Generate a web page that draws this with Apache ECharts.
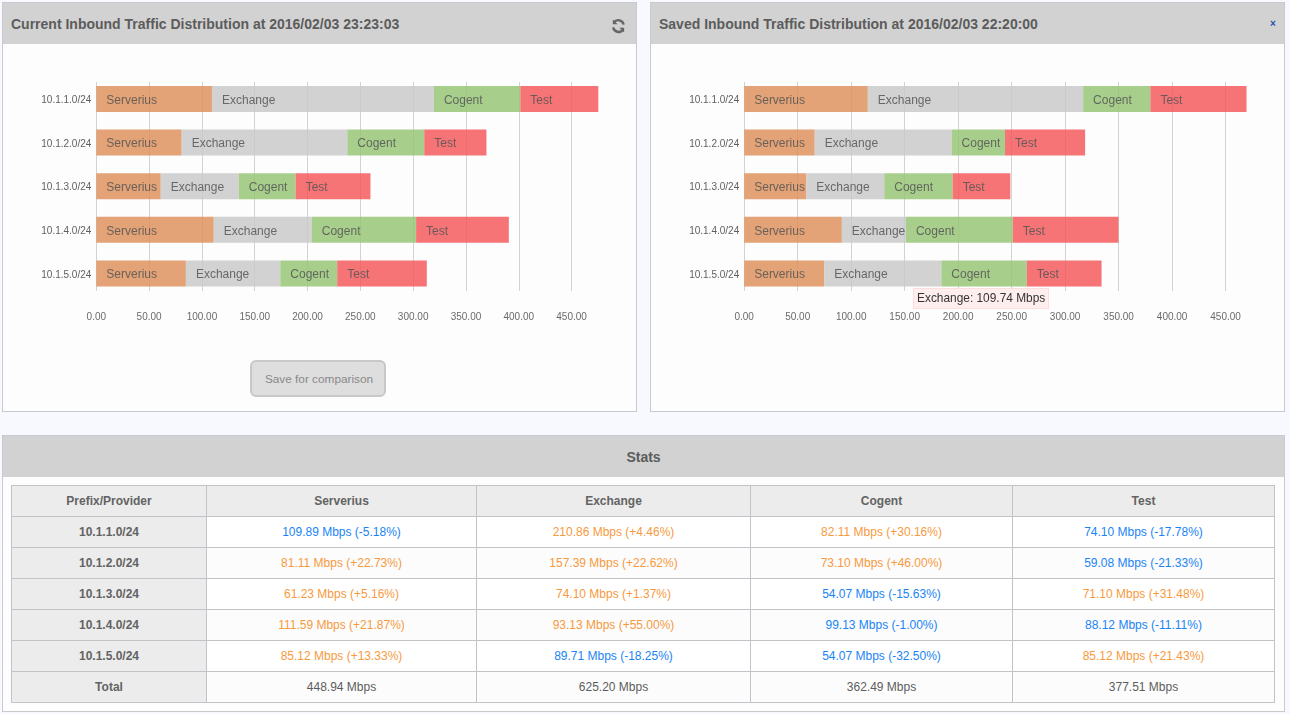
<!DOCTYPE html>
<html>
<head>
<meta charset="utf-8">
<title>Inbound Traffic Distribution</title>
<script src="https://cdn.jsdelivr.net/npm/echarts@6/dist/echarts.min.js"></script>
<style>
html,body{margin:0;padding:0;width:1290px;height:714px;overflow:hidden;background:#f7f9fe;font-family:"Liberation Sans",Arial,sans-serif;color:#555}
.panel{position:absolute;box-sizing:border-box;background:#fdfdfd;border:1px solid #c9c9d0}
.head{position:absolute;left:0;right:0;top:0;height:41px;background:#d2d2d2;color:#5c5c5c;font-weight:bold;font-size:14px;line-height:43px;padding-left:8px}
.chart{position:absolute}
#btn{position:absolute;left:250px;top:360px;width:136px;height:37px;box-sizing:border-box;background:#dedede;border:2px solid #c8c8c8;border-radius:6px;color:#888;font-size:11.8px;line-height:34px;text-align:center;padding-left:2px}
#stats .head{text-align:center;padding:0;font-size:14px}
table{position:absolute;left:8px;top:49px;border-collapse:collapse;table-layout:fixed;width:1263px;font-size:12px}
td,th{border:1px solid #c2c2c8;height:31px;padding:0;text-align:center;box-sizing:border-box;background:#fff;color:#5c5c5c}
tr:nth-child(odd) td{background:#fcfcfc}
th,td.k,tr:nth-child(odd) td.k{background:#ececec;font-weight:bold;color:#636363}
.up{color:#f79a3e}.dn{color:#1a84f5}
</style>
</head>
<body>
<div class="panel" style="left:2px;top:2px;width:635px;height:410px">
  <div class="head" id="t1"></div>
  <svg style="position:absolute;left:608px;top:15px" width="15" height="16" viewBox="0 0 15 16">
    <path d="M12.6 6.6A5.4 5.4 0 0 0 3 4.3" fill="none" stroke="#666" stroke-width="2.4"/>
    <path d="M1.8 1.4V6.2H6.6Z" fill="#666"/>
    <path d="M2.2 9.4A5.4 5.4 0 0 0 11.9 11.7" fill="none" stroke="#666" stroke-width="2.4"/>
    <path d="M13.1 14.6V9.8H8.3Z" fill="#666"/>
  </svg>
</div>
<div class="panel" style="left:650px;top:2px;width:635px;height:410px">
  <div class="head" id="t2"></div>
  <div style="position:absolute;left:619px;top:14px;color:#2c4fb0;font-size:10px;font-weight:bold;line-height:14px">×</div>
</div>
<div class="chart" id="c1" style="left:3px;top:45px;width:633px;height:310px"></div>
<div class="chart" id="c2" style="left:651px;top:45px;width:633px;height:310px"></div>
<div id="btn">Save for comparison</div>
<div class="panel" id="stats" style="left:2px;top:435px;width:1283px;height:277px">
  <div class="head">Stats</div>
  <table id="tb"></table>
</div>
<script>
var prefixes = ['10.1.1.0/24','10.1.2.0/24','10.1.3.0/24','10.1.4.0/24','10.1.5.0/24'];
var providers = ['Serverius','Exchange','Cogent','Test'];
var xTicksMax = 450;
var xTicksStep = 50;
var barAxisMax = 500;

var currentTitle = 'Current Inbound Traffic Distribution at 2016/02/03 23:23:03';
var savedTitle = 'Saved Inbound Traffic Distribution at 2016/02/03 22:20:00';

var curServerius = [109.89, 81.11, 61.23, 111.59, 85.12];
var curExchange  = [210.86, 157.39, 74.10, 93.13, 89.71];
var curCogent    = [82.11, 73.10, 54.07, 99.13, 54.07];
var curTest      = [74.10, 59.08, 71.10, 88.12, 85.12];

var savServerius = [115.89, 66.09, 58.23, 91.57, 75.11];
var savExchange  = [201.86, 128.36, 73.10, 60.08, 109.74];
var savCogent    = [63.08, 50.07, 64.09, 100.13, 80.10];
var savTest      = [90.12, 75.10, 54.08, 99.13, 70.10];

var pctServerius = ['-5.18','+22.73','+5.16','+21.87','+13.33'];
var pctExchange  = ['+4.46','+22.62','+1.37','+55.00','-18.25'];
var pctCogent    = ['+30.16','+46.00','-15.63','-1.00','-32.50'];
var pctTest      = ['-17.78','-21.33','+31.48','-11.11','+21.43'];

var totals = ['448.94','625.20','362.49','377.51'];
var barColors = ['#de935e','#cacaca','#99c678','#f45c5e'];

document.getElementById('t1').textContent = currentTitle;
document.getElementById('t2').textContent = savedTitle;

function build(el, series, tickLeft, tickWidth, barWidthPx){
  var chart = echarts.init(document.getElementById(el), null, {renderer:'canvas'});
  var s = series.map(function(vals,i){
    return {
      type:'bar', name:providers[i], stack:'t', xAxisIndex:1, yAxisIndex:1,
      data:vals, barWidth:26, z:3,
      itemStyle:{color:barColors[i],opacity:0.85},
      label:{show:true,position:'insideLeft',distance:10,offset:[0,1.5],formatter:providers[i],color:'#555',fontSize:12,fontFamily:'"Liberation Sans",Arial,sans-serif'},
      emphasis:{disabled:true}
    };
  });
  chart.setOption({
    animation:false,
    textStyle:{fontFamily:'"Liberation Sans",Arial,sans-serif'},
    grid:[
      {left:tickLeft,top:37,width:tickWidth,height:209,containLabel:false},
      {left:tickLeft,top:32.2,width:barWidthPx,height:218}
    ],
    xAxis:[
      {type:'value',gridIndex:0,min:0,max:xTicksMax,interval:xTicksStep,
       axisLine:{show:false},axisTick:{show:false},
       splitLine:{show:true,lineStyle:{color:'#d2d2d2',width:1}},
       axisLabel:{color:'#6a6a6a',fontSize:10,margin:21,showMaxLabel:true,showMinLabel:true,formatter:function(v){return v.toFixed(2);}}},
      {type:'value',gridIndex:1,min:0,max:barAxisMax,show:false}
    ],
    yAxis:[
      {type:'category',gridIndex:0,data:prefixes,show:false},
      {type:'category',gridIndex:1,data:prefixes,inverse:true,
       axisLine:{show:false},axisTick:{show:false},
       axisLabel:{margin:5,formatter:'{p|{value}}',rich:{p:{color:'#5f5f5f',fontSize:10,padding:[3,0,0,0]}}}}
    ],
    tooltip:{trigger:'item',show:true},
    series:s
  });
  return chart;
}

build('c1',[curServerius,curExchange,curCogent,curTest],93.3,475.3,526.25);
var c2 = build('c2',[savServerius,savExchange,savCogent,savTest],93.2,481.4,533.3);
c2.setOption({
  tooltip:{
    trigger:'item',alwaysShowContent:true,showContent:true,transitionDuration:0,
    position:[262,243],
    backgroundColor:'#ffeeee',borderColor:'#fddddd',borderWidth:1,padding:[1,3,1,3],
    extraCssText:'box-shadow:none;border-radius:0;line-height:17px;',
    textStyle:{color:'#333',fontSize:11.9},
    formatter:function(p){return p.seriesName+': '+p.value.toFixed(2)+' Mbps';}
  }
});
c2.dispatchAction({type:'showTip',seriesIndex:1,dataIndex:4});

function cell(v,p){
  var cls = p.charAt(0)==='+'?'up':'dn';
  return '<td class="'+cls+'">'+v.toFixed(2)+' Mbps ('+p+'%)</td>';
}
var html = '<colgroup><col style="width:195px"><col style="width:270px"><col style="width:274px"><col style="width:262px"><col style="width:262px"></colgroup>';
html += '<tr><th>Prefix/Provider</th>'+providers.map(function(p){return '<th>'+p+'</th>';}).join('')+'</tr>';
prefixes.forEach(function(pf,i){
  html += '<tr><td class="k">'+pf+'</td>'+cell(curServerius[i],pctServerius[i])+cell(curExchange[i],pctExchange[i])+cell(curCogent[i],pctCogent[i])+cell(curTest[i],pctTest[i])+'</tr>';
});
html += '<tr><td class="k">Total</td>'+totals.map(function(t){return '<td>'+t+' Mbps</td>';}).join('')+'</tr>';
document.getElementById('tb').innerHTML = html;
</script>
</body>
</html>
